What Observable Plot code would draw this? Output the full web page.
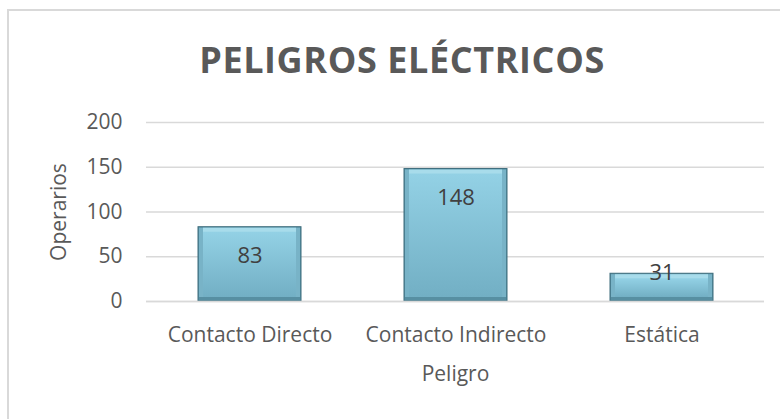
<!DOCTYPE html>
<html>
<head>
<meta charset="utf-8">
<script src="https://cdn.jsdelivr.net/npm/d3@7"></script>
<script src="https://cdn.jsdelivr.net/npm/@observablehq/plot@0.6"></script>
<style>
  html, body { margin: 0; padding: 0; background: #fff; }
  #wrap { position: relative; width: 780px; height: 419px; overflow: hidden; background: #fff; }
  #frame { position: absolute; left: 7px; top: 9px; width: 800px; height: 420px;
           border-left: 2px solid #d9d9d9; border-top: 2px solid #d9d9d9; }
  #title { position: absolute; left: 0; width: 804px; top: 36px; text-align: center;
           font-family: "Open Sans", sans-serif; font-weight: 700; font-size: 36px; line-height: 48px;
           color: #595959; letter-spacing: 0.6px; }
  #chart { position: absolute; left: 0; top: 0; }
</style>
</head>
<body>
<div id="wrap">
  <div id="frame"></div>
  <div id="chart"></div>
  <div id="title">PELIGROS ELÉCTRICOS</div>
</div>
<script>
const categories = ["Contacto Directo", "Contacto Indirecto", "Estática"];
const values = [83, 148, 31];
const yTicks = [0, 50, 100, 150, 200];

const data = categories.map((c, i) => ({peligro: c, operarios: values[i]}));
const font = "Open Sans, sans-serif";

const chart = Plot.plot({
  width: 780,
  height: 419,
  marginTop: 122,
  marginBottom: 118,
  marginLeft: 146,
  marginRight: 16,
  style: {fontFamily: font, fontSize: "21px", color: "#595959", background: "transparent"},
  x: {domain: categories, paddingInner: 0.5, paddingOuter: 0.25, label: "Peligro"},
  y: {domain: [0, 200], ticks: yTicks, label: "Operarios"},
  marks: [
    Plot.gridY(yTicks, {stroke: "#d9d9d9", strokeOpacity: 1, strokeWidth: 1.5}),
    Plot.axisY({ticks: yTicks, tickSize: 0, tickPadding: 24, fontSize: 21, fill: "#595959",
                label: "Operarios", labelAnchor: "center", labelArrow: "none", labelOffset: 95}),
    Plot.axisX({tickSize: 0, tickPadding: 26, fontSize: 21, fill: "#595959",
                label: "Peligro", labelAnchor: "center", labelArrow: "none", labelOffset: 79}),
    // bevelled bars: dark bottom bevel, side bevels, light top bevel, gradient face
    Plot.barY(data, {x: "peligro", y: "operarios", fill: "#578fa2", stroke: "#3d6c7c", strokeWidth: 1}),
    Plot.barY(data, {x: "peligro", y: "operarios", fill: "#78b3c7", insetBottom: 4, insetLeft: 1, insetRight: 1, insetTop: 1}),
    Plot.barY(data, {x: "peligro", y: "operarios", fill: "#a8dceb", insetBottom: 4, insetLeft: 5, insetRight: 5, insetTop: 1}),
    Plot.barY(data, {x: "peligro", y: "operarios", fill: "url(#barface)", insetBottom: 4, insetLeft: 5, insetRight: 5, insetTop: 5}),
    Plot.ruleY([0], {stroke: "#d9d9d9", strokeWidth: 1.5}),
    Plot.text(data.filter(d => d.operarios >= 50), {x: "peligro", y: "operarios", text: d => String(d.operarios),
      dy: 29, fontSize: 22, fill: "#404040"}),
    Plot.text(data.filter(d => d.operarios < 50), {x: "peligro", y: "operarios", text: d => String(d.operarios),
      dy: -1, fontSize: 22, fill: "#404040"})
  ]
});
// gradient definition for bar faces
const svgNS = "http://www.w3.org/2000/svg";
const defs = document.createElementNS(svgNS, "defs");
defs.innerHTML = '<linearGradient id="barface" x1="0" y1="0" x2="0" y2="1">' +
  '<stop offset="0" stop-color="#93d1e5"/><stop offset="1" stop-color="#72afc4"/></linearGradient>';
chart.insertBefore(defs, chart.firstChild);
document.getElementById("chart").appendChild(chart);
</script>
</body>
</html>
